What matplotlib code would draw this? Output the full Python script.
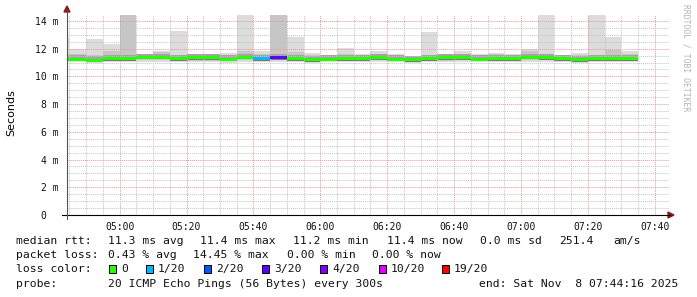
import matplotlib
matplotlib.use('Agg')
from matplotlib import pyplot as plt
from matplotlib.lines import Line2D
from matplotlib.patches import Polygon, Rectangle
from matplotlib.ticker import MultipleLocator, FixedLocator

W, H = 697, 297

# 5 minute slots (start time of each step)
slots = ["04:40", "04:45", "04:50", "04:55", "05:00", "05:05", "05:10", "05:15",
         "05:20", "05:25", "05:30", "05:35", "05:40", "05:45", "05:50", "05:55",
         "06:00", "06:05", "06:10", "06:15", "06:20", "06:25", "06:30", "06:35",
         "06:40", "06:45", "06:50", "06:55", "07:00", "07:05", "07:10", "07:15",
         "07:20", "07:25", "07:30"]

# rtt values in ms
rtt_max = [12.8, 12.0, 12.7, 12.35, 15.5, 11.6, 11.85, 13.3, 11.55, 11.55, 11.7, 15.5,
           11.8, 15.5, 12.85, 11.7, 11.55, 12.05, 11.6, 11.8, 11.6, 11.5, 13.2, 11.65,
           11.8, 11.6, 11.7, 11.6, 12.0, 15.5, 11.55, 11.7, 15.5, 12.85, 11.8]
rtt_hi = [11.6, 11.6, 11.55, 11.8, 15.5, 11.5, 11.75, 11.5, 11.45, 11.5, 11.55, 11.8,
          11.6, 15.5, 11.75, 11.55, 11.5, 11.6, 11.5, 11.55, 11.5, 11.45, 11.55, 11.5,
          11.55, 11.5, 11.6, 11.5, 11.8, 11.55, 11.45, 11.55, 11.55, 11.9, 11.6]
rtt_lo = [11.12, 11.12, 11.08, 11.12, 11.12, 11.15, 11.15, 11.12, 11.12, 11.12, 11.1, 11.15,
          11.12, 11.15, 11.12, 11.08, 11.1, 11.12, 11.12, 11.15, 11.1, 11.08, 11.1, 11.12,
          11.15, 11.1, 11.1, 11.12, 11.15, 11.15, 11.12, 11.08, 11.12, 11.1, 11.12]
rtt_min = [11.05, 11.05, 10.98, 11.05, 11.05, 11.05, 11.05, 11.05, 11.05, 11.05, 11.0, 11.05,
           11.05, 11.05, 11.05, 11.0, 11.02, 11.05, 11.05, 11.05, 11.02, 11.0, 11.02, 11.05,
           11.05, 11.02, 11.02, 11.05, 11.05, 11.05, 11.05, 11.0, 11.05, 11.02, 11.05]
rtt_median = [11.25, 11.25, 11.18, 11.3, 11.3, 11.38, 11.38, 11.3, 11.33, 11.33, 11.25, 11.38,
              11.3, 11.35, 11.3, 11.2, 11.25, 11.3, 11.3, 11.35, 11.25, 11.2, 11.27, 11.33,
              11.35, 11.25, 11.27, 11.3, 11.38, 11.35, 11.3, 11.2, 11.3, 11.27, 11.3]
loss = [0, 0, 0, 0, 0, 0, 0, 0, 0, 0, 0, 0, 1, 3, 0, 0, 0, 0, 0, 0, 0, 0, 0, 0,
        0, 0, 0, 0, 0, 0, 0, 0, 0, 0, 0]

loss_levels = [0, 1, 2, 3, 4, 10, 19]
loss_colors = ['#26ff00', '#00b8ff', '#0059ff', '#5e00ff', '#7e00ff', '#dd00ff', '#ff0000']

x_ticks = ["05:00", "05:20", "05:40", "06:00", "06:20", "06:40", "07:00", "07:20", "07:40"]
t_begin, t_end = "04:44:16", "07:44:16"


def to_min(s):
    parts = [int(p) for p in s.split(':')]
    m = parts[0] * 60 + parts[1]
    if len(parts) > 2:
        m += parts[2] / 60.0
    return m


def loss_color(n):
    c = loss_colors[0]
    for lvl, col in zip(loss_levels, loss_colors):
        if n >= lvl:
            c = col
    return c


def fx(x):
    return x / W


def fy(y):
    return 1 - y / H


mono = 'DejaVu Sans Mono'
fig = plt.figure(figsize=(W / 100, H / 100), dpi=100)
fig.set_facecolor('white')
ax = fig.add_axes([fx(67), fy(215), (669 - 67) / W, (215 - 15) / H])

xs = [to_min(s) for s in slots]
step = 5
# smoke: outer and inner ping spread, then dark band and the median coloured by loss
ax.bar(xs, [mx - mn for mx, mn in zip(rtt_max, rtt_min)], bottom=rtt_min, width=step,
       align='edge', color='#dcdcdc', linewidth=0, zorder=1)
ax.bar(xs, [hi - lo for hi, lo in zip(rtt_hi, rtt_lo)], bottom=rtt_lo, width=step,
       align='edge', color='#c6c6c6', linewidth=0, zorder=1)
ax.bar(xs, [0.16] * len(xs), bottom=[m + 0.1 for m in rtt_median], width=step,
       align='edge', color='#a4a4a4', linewidth=0, zorder=1)
ax.bar(xs, [0.05] * len(xs), bottom=[m - 0.16 for m in rtt_median], width=step,
       align='edge', color='#7a7a7a', linewidth=0, zorder=1)
ax.bar(xs, [0.22] * len(xs), bottom=[m - 0.11 for m in rtt_median], width=step,
       align='edge', color=[loss_color(n) for n in loss], linewidth=0, zorder=3)

ax.set_xlim(to_min(t_begin), to_min(t_end))
ax.set_ylim(0, 14.43)

ax.xaxis.set_major_locator(FixedLocator([to_min(t) for t in x_ticks]))
ax.xaxis.set_minor_locator(MultipleLocator(5))
ax.set_xticklabels(x_ticks)
ax.yaxis.set_major_locator(MultipleLocator(2))
ax.yaxis.set_minor_locator(MultipleLocator(0.5))
ax.set_yticks(range(0, 15, 2))
ax.set_yticklabels(['0  '] + ['%d m' % v for v in range(2, 15, 2)])

ax.set_axisbelow(False)
ax.grid(which='minor', color='#c4c4c4', linestyle=(0, (1, 1)), linewidth=0.7, zorder=2)
ax.grid(which='major', color='#e59a9a', linestyle=(0, (1, 1)), linewidth=0.7, zorder=2)

for sp in ax.spines.values():
    sp.set_visible(False)
ax.tick_params(axis='both', which='both', length=0, labelsize=7, labelcolor='#111111')
ax.tick_params(axis='x', pad=5)
ax.tick_params(axis='y', pad=6)
for lab in ax.get_xticklabels() + ax.get_yticklabels():
    lab.set_family(mono)

# axes lines and arrows
fig.add_artist(Line2D([fx(62), fx(670)], [fy(215), fy(215)], color='black', lw=0.8))
fig.add_artist(Line2D([fx(67), fx(67)], [fy(219), fy(10)], color='#555555', lw=0.8))
fig.add_artist(Polygon([(fx(668), fy(212)), (fx(674), fy(215)), (fx(668), fy(218))],
                       closed=True, color='#8b1a1a', transform=fig.transFigure))
fig.add_artist(Polygon([(fx(64), fy(12)), (fx(67), fy(6)), (fx(70), fy(12))],
                       closed=True, color='#8b1a1a', transform=fig.transFigure))

fig.text(fx(11), fy(113), 'Seconds', rotation=90, ha='center', va='center',
         fontsize=8, family='DejaVu Sans')
fig.text(fx(686), fy(4), 'RRDTOOL / TOBI OETIKER', rotation=270, ha='center', va='top',
         fontsize=5.8, family=mono, color='#b4b4b4')


def px_text(x, y, s):
    fig.text(fx(x), fy(y), s, ha='left', va='center', fontsize=8.2, family=mono,
             color='#111111')


px_text(16, 241, 'median rtt:')
px_text(108, 241, '11.3 ms avg')
px_text(200, 241, '11.4 ms max')
px_text(293, 241, '11.2 ms min')
px_text(387, 241, '11.4 ms now')
px_text(480, 241, '0.0 ms sd')
px_text(559, 241, '251.4')
px_text(613, 241, 'am/s')

px_text(16, 255, 'packet loss:')
px_text(108, 255, '0.43 % avg')
px_text(193, 255, '14.45 % max')
px_text(287, 255, '0.00 % min')
px_text(372, 255, '0.00 % now')

px_text(16, 269, 'loss color:')
box_x = [109, 146, 204, 262, 320, 379, 442]
for bx, lvl, col in zip(box_x, loss_levels, loss_colors):
    fig.add_artist(Rectangle((fx(bx), fy(273)), 7 / W, 8 / H, transform=fig.transFigure,
                             facecolor=col, edgecolor='black', linewidth=0.7))
    px_text(bx + 12, 269, '0' if lvl == 0 else '%d/20' % lvl)

px_text(16, 284, 'probe:')
px_text(108, 284, '20 ICMP Echo Pings (56 Bytes) every 300s')
px_text(479, 284, 'end: Sat Nov  8 07:44:16 2025')

fig.savefig('out.png', dpi=100)
